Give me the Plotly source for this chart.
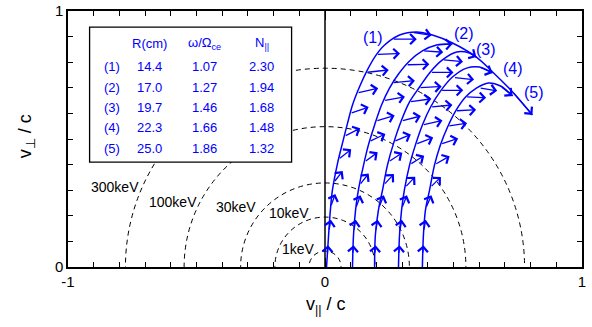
import plotly.graph_objects as go

# ---------------- data ----------------
energies_keV = [1, 10, 30, 100, 300]
energy_labels = ["1keV", "10keV", "30keV", "100keV", "300keV"]
energy_label_pos = [(-0.105, 0.072), (-0.140, 0.212), (-0.345, 0.235), (-0.593, 0.255), (-0.818, 0.313)]

c1_x = [0.006, 0.014, 0.021, 0.029, 0.049, 0.068, 0.088, 0.107, 0.134, 0.165, 0.196, 0.232, 0.290, 0.356, 0.418, 0.496, 0.589, 0.652, 0.730, 0.807]
c1_y = [0.000, 0.125, 0.223, 0.301, 0.406, 0.484, 0.563, 0.633, 0.703, 0.770, 0.824, 0.867, 0.906, 0.918, 0.906, 0.875, 0.820, 0.762, 0.684, 0.594]
c2_x = [0.107, 0.111, 0.119, 0.130, 0.150, 0.169, 0.193, 0.220, 0.251, 0.286, 0.329, 0.379, 0.434, 0.496]
c2_y = [0.000, 0.125, 0.223, 0.301, 0.398, 0.477, 0.555, 0.633, 0.699, 0.754, 0.805, 0.844, 0.867, 0.871]
c3_x = [0.193, 0.196, 0.208, 0.224, 0.243, 0.267, 0.298, 0.329, 0.368, 0.410, 0.457, 0.512, 0.562, 0.589]
c3_y = [0.000, 0.125, 0.223, 0.301, 0.398, 0.484, 0.574, 0.645, 0.703, 0.762, 0.809, 0.840, 0.836, 0.820]
c4_x = [0.286, 0.290, 0.298, 0.309, 0.329, 0.352, 0.379, 0.411, 0.450, 0.496, 0.551, 0.601, 0.652]
c4_y = [0.000, 0.125, 0.223, 0.301, 0.398, 0.477, 0.555, 0.625, 0.688, 0.742, 0.777, 0.781, 0.758]
c5_x = [0.379, 0.383, 0.391, 0.407, 0.426, 0.449, 0.477, 0.508, 0.547, 0.589, 0.636, 0.683, 0.730]
c5_y = [0.000, 0.125, 0.223, 0.301, 0.398, 0.477, 0.547, 0.609, 0.664, 0.699, 0.719, 0.707, 0.668]

# direction arrows along each trajectory: (tail x, tail y, dx, dy)
c1_arrows = [(0.009, 0.05, 0.003, 0.035), (0.015, 0.14, 0.008, 0.045), (0.022, 0.235, 0.018, 0.050),
             (0.034, 0.33, 0.035, 0.045), (0.052, 0.42, 0.050, 0.040), (0.075, 0.51, 0.062, 0.032),
             (0.098, 0.60, 0.072, 0.025), (0.125, 0.68, 0.082, 0.018), (0.160, 0.76, 0.088, 0.010),
             (0.200, 0.83, 0.092, 0.004), (0.262, 0.89, 0.095, 0.000), (0.340, 0.917, 0.075, -0.012)]
c2_arrows = [(0.108, 0.05, 0.003, 0.035), (0.112, 0.14, 0.008, 0.045), (0.120, 0.23, 0.018, 0.050),
             (0.134, 0.32, 0.036, 0.045), (0.153, 0.41, 0.052, 0.038), (0.172, 0.49, 0.063, 0.030),
             (0.198, 0.57, 0.073, 0.022), (0.228, 0.65, 0.083, 0.015), (0.262, 0.72, 0.088, 0.008),
             (0.316, 0.79, 0.090, 0.002), (0.380, 0.845, 0.080, -0.006)]
c3_arrows = [(0.194, 0.05, 0.003, 0.035), (0.197, 0.14, 0.008, 0.045), (0.209, 0.23, 0.020, 0.050),
             (0.228, 0.32, 0.040, 0.043), (0.246, 0.41, 0.055, 0.036), (0.268, 0.49, 0.066, 0.028),
             (0.297, 0.57, 0.076, 0.020), (0.329, 0.645, 0.085, 0.012), (0.366, 0.70, 0.088, 0.005),
             (0.410, 0.76, 0.090, 0.000), (0.457, 0.81, 0.080, -0.008)]
c4_arrows = [(0.287, 0.05, 0.003, 0.035), (0.291, 0.14, 0.008, 0.045), (0.299, 0.23, 0.020, 0.050),
             (0.311, 0.31, 0.040, 0.043), (0.330, 0.40, 0.056, 0.035), (0.353, 0.48, 0.068, 0.026),
             (0.379, 0.555, 0.078, 0.017), (0.411, 0.625, 0.085, 0.008), (0.450, 0.69, 0.088, 0.000),
             (0.500, 0.74, 0.080, -0.008)]
c5_arrows = [(0.380, 0.05, 0.003, 0.035), (0.384, 0.14, 0.008, 0.045), (0.392, 0.23, 0.022, 0.050),
             (0.409, 0.31, 0.042, 0.042), (0.427, 0.40, 0.058, 0.033), (0.450, 0.48, 0.068, 0.022),
             (0.478, 0.55, 0.075, 0.012), (0.508, 0.61, 0.080, 0.004), (0.547, 0.665, 0.080, -0.004),
             (0.600, 0.70, 0.070, -0.012)]

curve_labels = ["(1)", "(2)", "(3)", "(4)", "(5)"]
curve_label_pos = [(0.185, 0.895), (0.539, 0.914), (0.628, 0.848), (0.730, 0.777), (0.815, 0.680)]

# table
tbl_rows = ["(1)", "(2)", "(3)", "(4)", "(5)"]
tbl_R = ["14.4", "17.0", "19.7", "22.3", "25.0"]
tbl_w = ["1.07", "1.27", "1.46", "1.66", "1.86"]
tbl_N = ["2.30", "1.94", "1.68", "1.48", "1.32"]
tbl_headers = ["R(cm)", "ω/Ω<sub>ce</sub>", "N<sub>||</sub>"]
tbl_col_x = [-0.827, -0.683, -0.469, -0.247]
tbl_row_y = [0.875, 0.785, 0.703, 0.625, 0.543, 0.461]
tbl_box = (-0.916, 0.410, -0.130, 0.937)

x_ticks = [-1, -0.5, 0, 0.5, 1]
x_ticktext = ["-1", "", "0", "", "1"]
y_ticks = [0, 0.5, 1]
y_ticktext = ["0", "", "1"]
minor_ticks_x = [round(-1 + 0.1 * i, 1) for i in range(21)]
minor_ticks_y = [round(0.1 * i, 1) for i in range(11)]

BLUE = "#0000ff"
FONT = "Liberation Sans, Arial, sans-serif"

fig = go.Figure()

curves = [(c1_x, c1_y), (c2_x, c2_y), (c3_x, c3_y), (c4_x, c4_y), (c5_x, c5_y)]
for cx, cy in curves:
    fig.add_trace(go.Scatter(x=cx, y=cy, mode="lines",
                             line=dict(color=BLUE, width=1.5, shape="spline", smoothing=1.0),
                             hoverinfo="skip", showlegend=False))

shapes = []
# energy circles (radius = beta from kinetic energy)
for E in energies_keV:
    gamma = 1.0 + E / 511.0
    beta = (1.0 - 1.0 / gamma ** 2) ** 0.5
    shapes.append(dict(type="circle", xref="x", yref="y", x0=-beta, x1=beta, y0=-beta, y1=beta,
                       line=dict(color="black", width=1, dash="5px,4px"), layer="below"))
# centre line
shapes.append(dict(type="line", xref="x", yref="y", x0=0, x1=0, y0=0, y1=1,
                   line=dict(color="black", width=1.5)))
# table box
shapes.append(dict(type="rect", xref="x", yref="y", x0=tbl_box[0], y0=tbl_box[1], x1=tbl_box[2], y1=tbl_box[3],
                   line=dict(color="black", width=1.3), fillcolor="white", layer="above"))

ann = []
for (lx, ly), txt in zip(energy_label_pos, energy_labels):
    ann.append(dict(x=lx, y=ly, xref="x", yref="y", text=txt, showarrow=False,
                    font=dict(family=FONT, size=14, color="black")))

ARROW = dict(text="", showarrow=True, arrowhead=4, arrowsize=1.5, arrowwidth=1.3,
             arrowcolor=BLUE, standoff=0, startstandoff=0, xref="x", yref="y", axref="x", ayref="y")
for arrows in [c1_arrows, c2_arrows, c3_arrows, c4_arrows, c5_arrows]:
    for (ax0, ay0, u, v) in arrows:
        ann.append(dict(x=ax0 + u, y=ay0 + v, ax=ax0, ay=ay0, **ARROW))

# end arrowheads of trajectories
for cx, cy in curves:
    ann.append(dict(x=cx[-1], y=cy[-1], ax=cx[-2], ay=cy[-2], **ARROW))

for (lx, ly), txt in zip(curve_label_pos, curve_labels):
    ann.append(dict(x=lx, y=ly, xref="x", yref="y", text=txt, showarrow=False,
                    font=dict(family=FONT, size=16, color=BLUE)))

# table text
for j, h in enumerate(tbl_headers):
    ann.append(dict(x=tbl_col_x[j + 1], y=tbl_row_y[0], xref="x", yref="y", text=h, showarrow=False,
                    font=dict(family=FONT, size=13, color=BLUE)))
for i in range(5):
    for j, col in enumerate([tbl_rows, tbl_R, tbl_w, tbl_N]):
        ann.append(dict(x=tbl_col_x[j], y=tbl_row_y[i + 1], xref="x", yref="y", text=col[i], showarrow=False,
                        font=dict(family=FONT, size=13, color=BLUE)))

# axis titles
ann.append(dict(x=0.502, y=-0.15, xref="paper", yref="paper", xanchor="center", yanchor="middle",
                text="v<sub>||</sub> / c", showarrow=False,
                font=dict(family=FONT, size=18, color="black")))
ann.append(dict(x=-0.08, y=0.51, xref="paper", yref="paper", xanchor="center", yanchor="middle",
                text="v<sub>⊥</sub> / c", showarrow=False,
                textangle=-90, font=dict(family=FONT, size=18, color="black")))

axis_common = dict(showline=True, linecolor="black", linewidth=1.5, mirror="ticks", ticks="inside",
                   tickcolor="black", tickwidth=1, showgrid=False, zeroline=False, automargin=False,
                   tickfont=dict(family=FONT, size=15, color="black"))

fig.update_layout(
    width=592, height=327,
    margin=dict(l=68, r=10, t=11, b=60, autoexpand=False),
    plot_bgcolor="white", paper_bgcolor="white",
    xaxis=dict(range=[-1, 1], tickmode="array", tickvals=x_ticks, ticktext=x_ticktext, ticklen=9,
               minor=dict(tickvals=minor_ticks_x, ticks="inside", ticklen=5, tickcolor="black"),
               **axis_common),
    yaxis=dict(range=[0, 1], tickmode="array", tickvals=y_ticks, ticktext=y_ticktext, ticklen=9,
               minor=dict(tickvals=minor_ticks_y, ticks="inside", ticklen=5, tickcolor="black"),
               **axis_common),
    yaxis2=dict(range=[0, 1], overlaying="y", anchor="free", position=0.5, showline=False,
                tickmode="array", tickvals=minor_ticks_y[1:-1], ticks="inside", ticklen=6,
                tickcolor="black", showticklabels=False, showgrid=False, zeroline=False, automargin=False),
    yaxis3=dict(range=[0, 1], overlaying="y", anchor="free", position=0.5, showline=False,
                tickmode="array", tickvals=minor_ticks_y[1:-1], ticks="outside", ticklen=4,
                tickcolor="black", showticklabels=False, showgrid=False, zeroline=False, automargin=False),
    shapes=shapes, annotations=ann, showlegend=False,
)

fig.write_html("out.html")
